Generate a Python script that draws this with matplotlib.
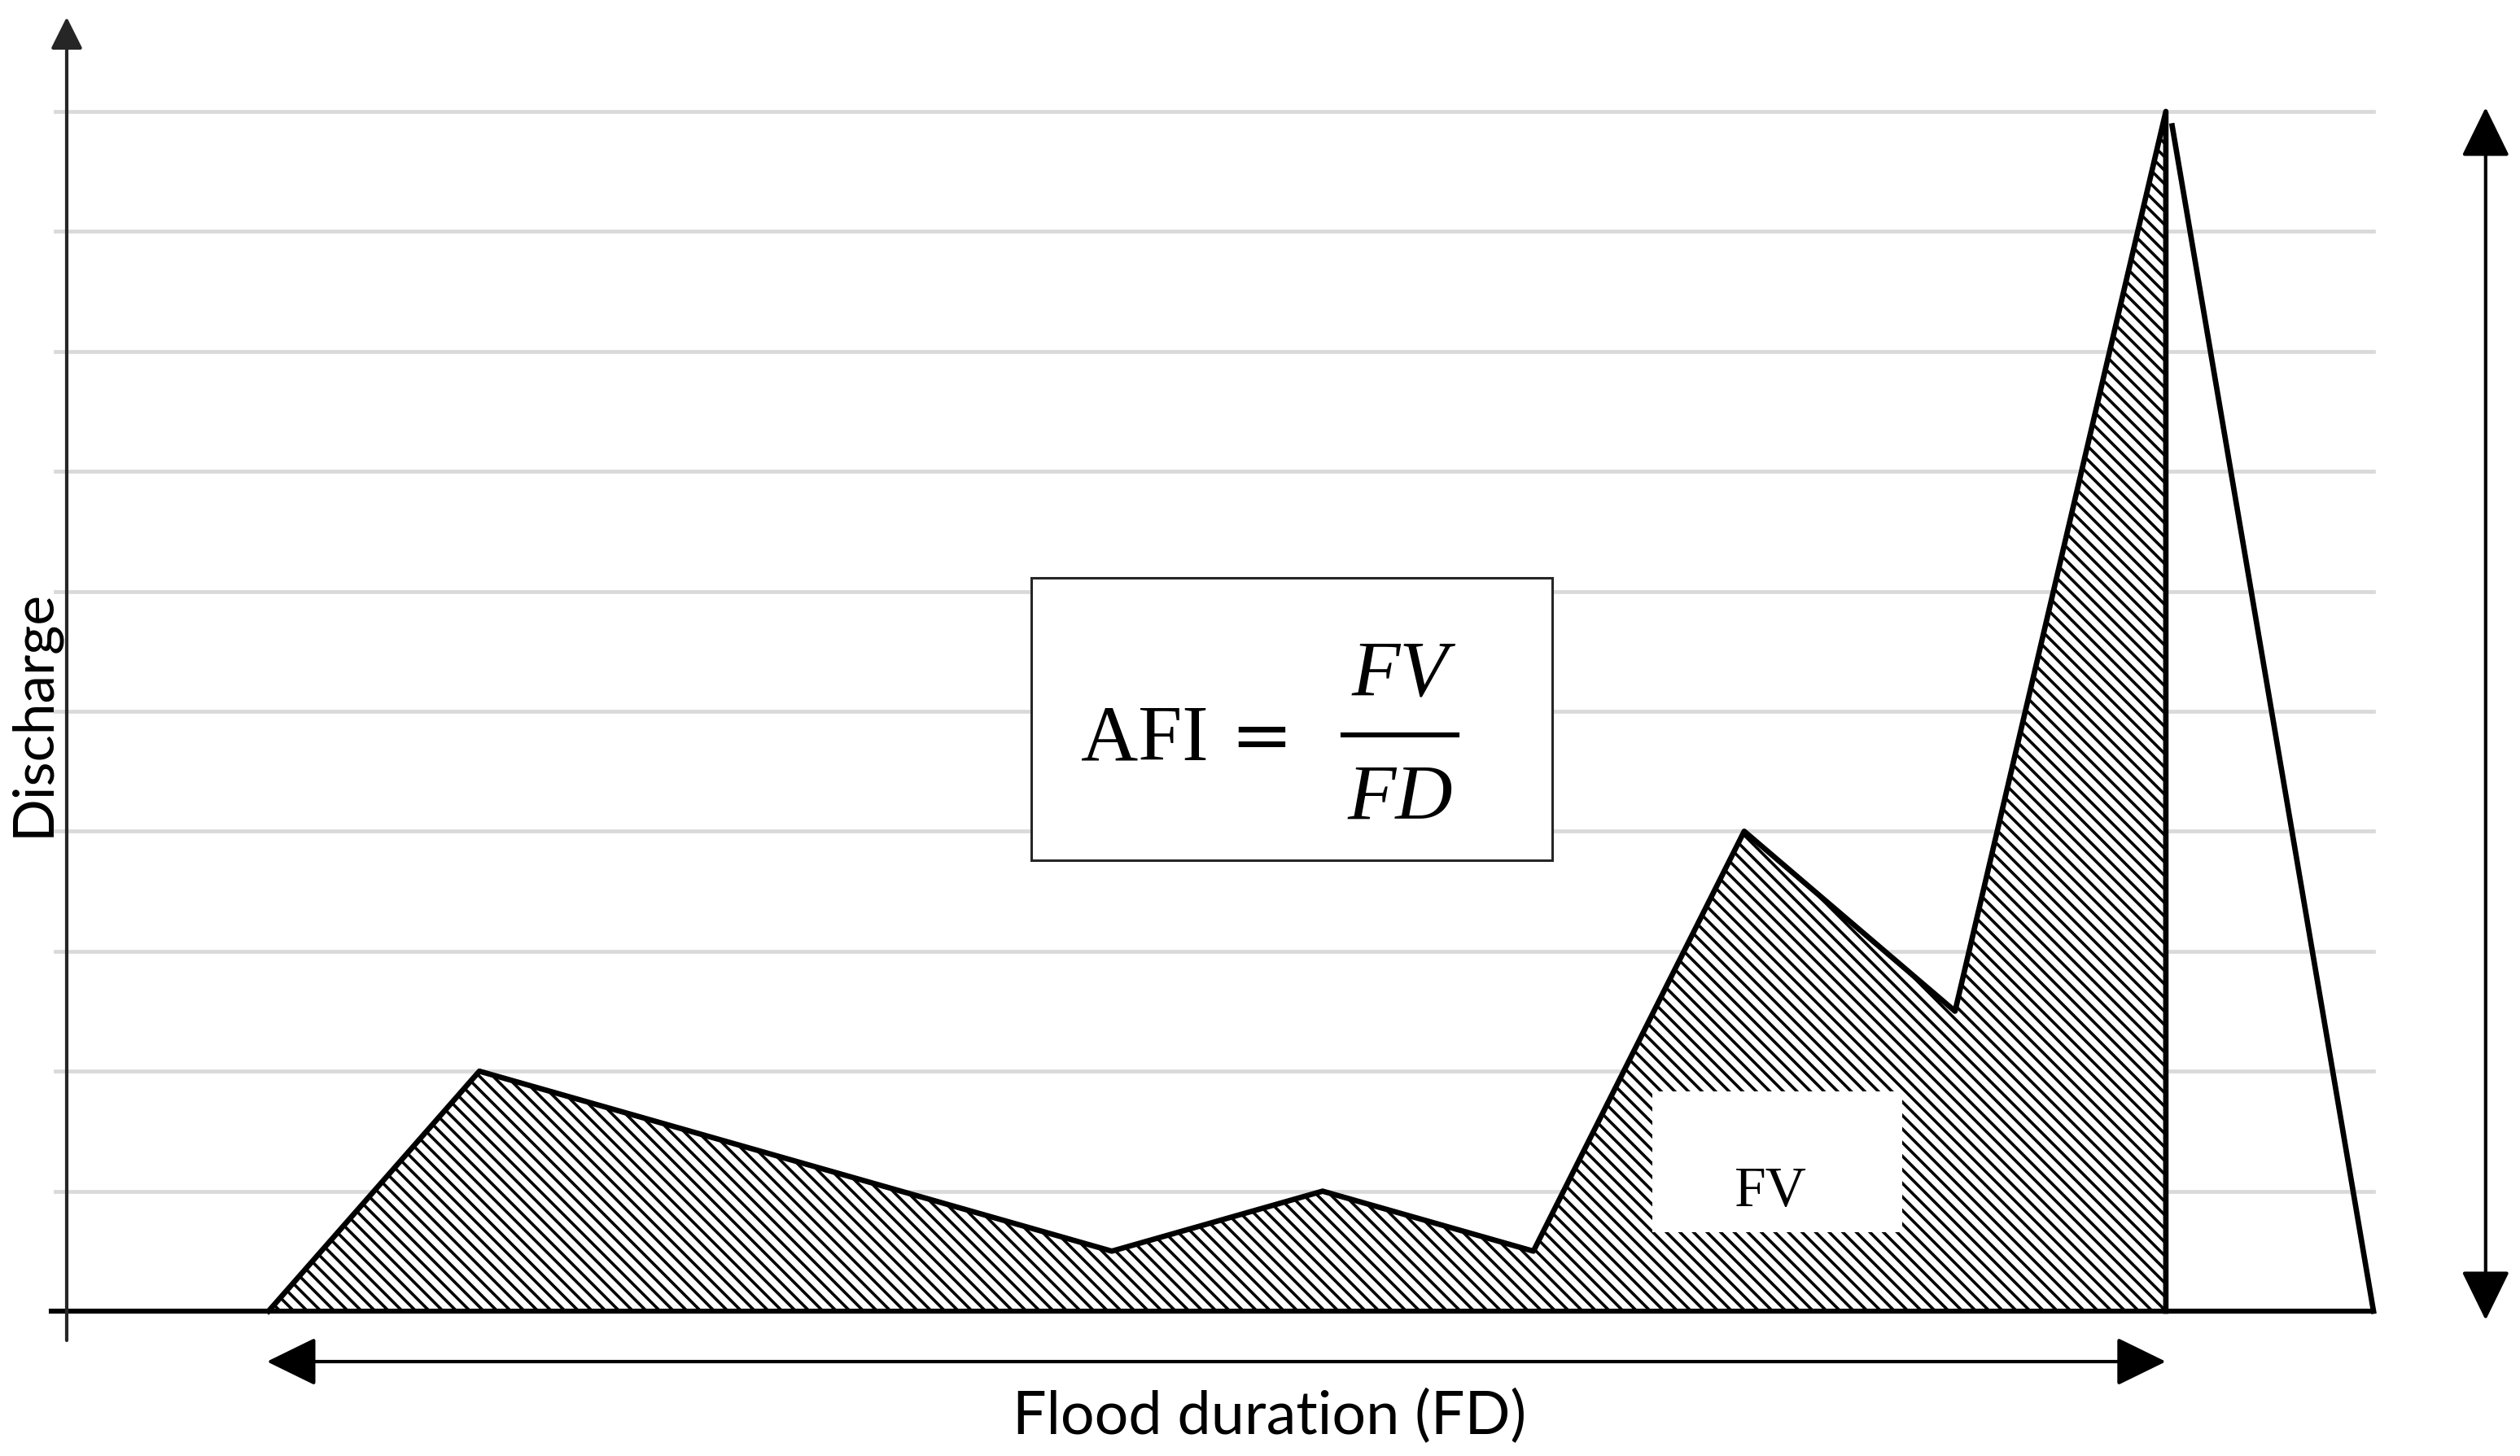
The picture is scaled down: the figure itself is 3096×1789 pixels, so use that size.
import matplotlib.pyplot as plt
from matplotlib.patches import Rectangle, ArrowStyle

# hydrograph (time step, discharge)
flow_t = [1, 2, 5, 6, 7, 8, 9, 10]
flow_q = [0, 2, 0.5, 1, 0.5, 4, 2.5, 10]

# falling limb after the flood volume cut
fall_t = [10.03, 10.985]
fall_q = [9.88, 0]

grid_levels = [1, 2, 3, 4, 5, 6, 7, 8, 9, 10]

plt.rcParams["hatch.linewidth"] = 1.3

fig = plt.figure(figsize=(15.48, 8.95), dpi=200)
ax = fig.add_axes([0, 0, 1, 1])
ax.set_xlim(-0.274, 11.680)
ax.set_ylim(-1.2076, 10.936)
ax.axis("off")

# light horizontal grid
for g in grid_levels:
    ax.plot([-0.012, 10.985], [g, g], color="#d9d9d9", lw=1.7, zorder=1)

# flood volume (hatched area)
poly_t = flow_t + [flow_t[-1]]
poly_q = flow_q + [0]
ax.fill(poly_t, poly_q, facecolor="white", edgecolor="black",
        hatch="\\\\\\\\", lw=0, zorder=2)
ax.plot(poly_t, poly_q, color="black", lw=2.4, zorder=4)
ax.plot(fall_t, fall_q, color="black", lw=2.4, zorder=4)

# baseline
ax.plot([-0.03, 10.985], [0, 0], color="black", lw=2.2, zorder=4)

# y axis with arrow
ax.annotate("", xy=(0.0425, 10.787), xytext=(0.0425, -0.244),
            arrowprops=dict(arrowstyle=ArrowStyle("-|>", head_length=12, head_width=6),
                            mutation_scale=1, lw=1.5, color="#262626",
                            shrinkA=0, shrinkB=0), zorder=5)

# flood duration arrow
ax.annotate("", xy=(10.0, -0.4206), xytext=(0.992, -0.4206),
            arrowprops=dict(arrowstyle=ArrowStyle("<|-|>", head_length=19, head_width=9.3),
                            mutation_scale=1, lw=1.5, color="black",
                            shrinkA=0, shrinkB=0), zorder=5)

# peak arrow on the right
ax.annotate("", xy=(11.517, 10.034), xytext=(11.517, -0.075),
            arrowprops=dict(arrowstyle=ArrowStyle("<|-|>", head_length=19, head_width=9.3),
                            mutation_scale=1, lw=1.5, color="black",
                            shrinkA=0, shrinkB=0), zorder=5)

# FV label on white patch
ax.add_patch(Rectangle((7.564, 0.658), 8.749 - 7.564, 1.832 - 0.658,
                       facecolor="white", edgecolor="none", zorder=3))
ax.text(8.127, 0.88, "FV", family="Liberation Serif", fontsize=25,
        ha="center", va="baseline", zorder=6)

# formula box
ax.add_patch(Rectangle((4.618, 3.758), 7.089 - 4.618, 6.113 - 3.758,
                       facecolor="white", edgecolor="#262626", lw=1.1, zorder=3))
ax.text(5.459, 4.60, "AFI", family="Liberation Serif", fontsize=35,
        ha="right", va="baseline", zorder=6)
ax.text(5.71, 4.60, "=", family="DejaVu Serif", fontsize=33,
        ha="center", va="baseline", zorder=6)
ax.text(6.367, 5.136, "FV", family="Liberation Serif", fontstyle="italic",
        fontsize=35, ha="center", va="baseline", zorder=6)
ax.plot([6.097, 6.637], [4.803, 4.803], color="black", lw=2.2, zorder=6)
ax.text(6.367, 4.105, "FD", family="Liberation Serif", fontstyle="italic",
        fontsize=35, ha="center", va="baseline", zorder=6)

# axis labels
ax.text(5.749, -0.875, "Flood duration (FD)", family="Lato", fontsize=26.5,
        ha="center", va="center")
ax.text(-0.116, 4.99, "Discharge", family="Lato", fontsize=25,
        rotation=90, ha="center", va="center")

fig.savefig("out.png", dpi=200)
